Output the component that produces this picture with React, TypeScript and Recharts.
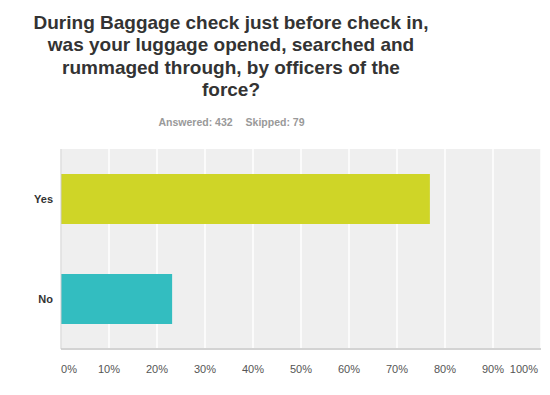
import { BarChart, Bar, XAxis, YAxis, CartesianGrid, Cell } from 'recharts';

const answers = ['Yes', 'No'];
const percents = [76.85, 23.15];
const barColors = ['#cfd527', '#33bdc0'];
const xTicks = [0, 10, 20, 30, 40, 50, 60, 70, 80, 90, 100];

const titleLines = [
  'During Baggage check just before check in,',
  'was your luggage opened, searched and',
  'rummaged through, by officers of the',
  'force?',
];

const data = answers.map((a, i) => ({ answer: a, pct: percents[i] }));

const FONT = '"Liberation Sans", Arial, sans-serif';

function XTick(props: any) {
  const { x, y, payload } = props;
  const v = payload.value;
  const anchor = v === 0 ? 'start' : v === 100 ? 'end' : 'middle';
  return (
    <text x={x} y={y + 22} textAnchor={anchor} fontSize={11} fill="#555" fontFamily={FONT}>
      {v}%
    </text>
  );
}

function YTick(props: any) {
  const { x, y, payload } = props;
  return (
    <text x={x} y={y + 4} textAnchor="end" fontSize={11} fontWeight="bold" fill="#333" fontFamily={FONT}>
      {payload.value}
    </text>
  );
}

export default function App() {
  return (
    <div style={{ position: 'absolute', left: 0, top: 0, width: 550, height: 395, background: '#fff', fontFamily: FONT }}>
      <div
        style={{
          position: 'absolute',
          left: 0,
          top: 12,
          width: 462,
          textAlign: 'center',
          fontSize: 19,
          fontWeight: 'bold',
          lineHeight: '22.4px',
          color: '#333',
        }}
      >
        {titleLines.map((l) => (
          <div key={l}>{l}</div>
        ))}
      </div>
      <div
        style={{
          position: 'absolute',
          left: 0,
          top: 116,
          width: 463,
          textAlign: 'center',
          fontSize: 10.5,
          fontWeight: 'bold',
          color: '#999',
        }}
      >
        <span>Answered: 432</span>
        <span style={{ marginLeft: 13 }}>Skipped: 79</span>
      </div>
      <div style={{ position: 'absolute', left: 0, top: 0 }}>
        <BarChart
          width={550}
          height={395}
          data={data}
          layout="vertical"
          margin={{ top: 149, right: 9, bottom: 16, left: 0 }}
          barCategoryGap="25%"
        >
          <CartesianGrid horizontal={false} stroke="#ffffff" strokeWidth={1.5} fill="#efefef" />
          <XAxis
            type="number"
            domain={[0, 100]}
            ticks={xTicks}
            height={30}
            tickLine={false}
            tickSize={0}
            axisLine={{ stroke: '#d3d3d3', strokeWidth: 2 }}
            tick={<XTick />}
          />
          <YAxis
            type="category"
            dataKey="answer"
            width={61}
            tickLine={false}
            tickSize={0}
            tickMargin={8}
            axisLine={{ stroke: '#cccccc' }}
            tick={<YTick />}
          />
          <Bar dataKey="pct" isAnimationActive={false}>
            {data.map((d, i) => (
              <Cell key={d.answer} fill={barColors[i]} />
            ))}
          </Bar>
        </BarChart>
      </div>
    </div>
  );
}
